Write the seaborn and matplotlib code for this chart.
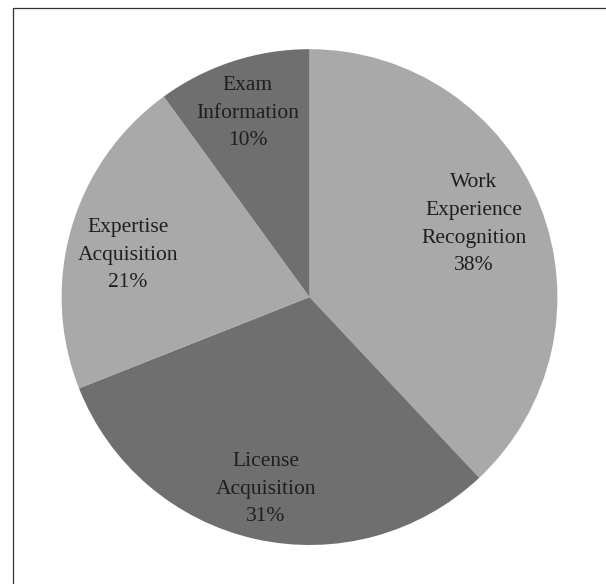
import matplotlib
matplotlib.use("Agg")
import matplotlib.pyplot as plt
import seaborn as sns
from matplotlib.patches import Rectangle
import math

categories = ["Work\nExperience\nRecognition", "License\nAcquisition", "Expertise\nAcquisition", "Exam\nInformation"]
values = [38, 31, 21, 10]
colors = ["#A9A9A9", "#6F6F6F", "#A9A9A9", "#6F6F6F"]

# layout tweaks: per-label radial scaling and angular nudge (degrees)
label_scale = [0.955, 1.045, 0.99, 1.03]
label_rot = [2.3, -0.3, 3.2, 0.6]

sns.set_theme(style="white")
plt.rcParams['font.family'] = ['Liberation Serif', 'DejaVu Serif']

fig = plt.figure(figsize=(6.06, 5.84), dpi=100)
ax = fig.add_axes([0.1015, 0.0668, 0.8185, 0.849])

labels = [f"{c}\n{v}%" for c, v in zip(categories, values)]
wedges, texts = ax.pie(values, labels=labels, colors=colors, startangle=90,
                       counterclock=False, labeldistance=0.76,
                       wedgeprops=dict(linewidth=0),
                       textprops=dict(fontsize=15.5, color="#1e1e1e", linespacing=1.62))
for t, k, r in zip(texts, label_scale, label_rot):
    x, y = t.get_position()
    a = math.radians(r)
    xr = x * math.cos(a) - y * math.sin(a)
    yr = x * math.sin(a) + y * math.cos(a)
    t.set_position((xr * k, yr * k))
    t.set_ha("center")
    t.set_va("center")
ax.set_aspect("equal")
ax.set_xlim(-1, 1)
ax.set_ylim(-1, 1)

rect = Rectangle((12.5 / 606, -0.1), 1.2, 1 - 8.5 / 584 + 0.1, transform=fig.transFigure,
                 fill=False, edgecolor="#333333", linewidth=0.9)
fig.patches.append(rect)

fig.savefig("out.png", dpi=100)
